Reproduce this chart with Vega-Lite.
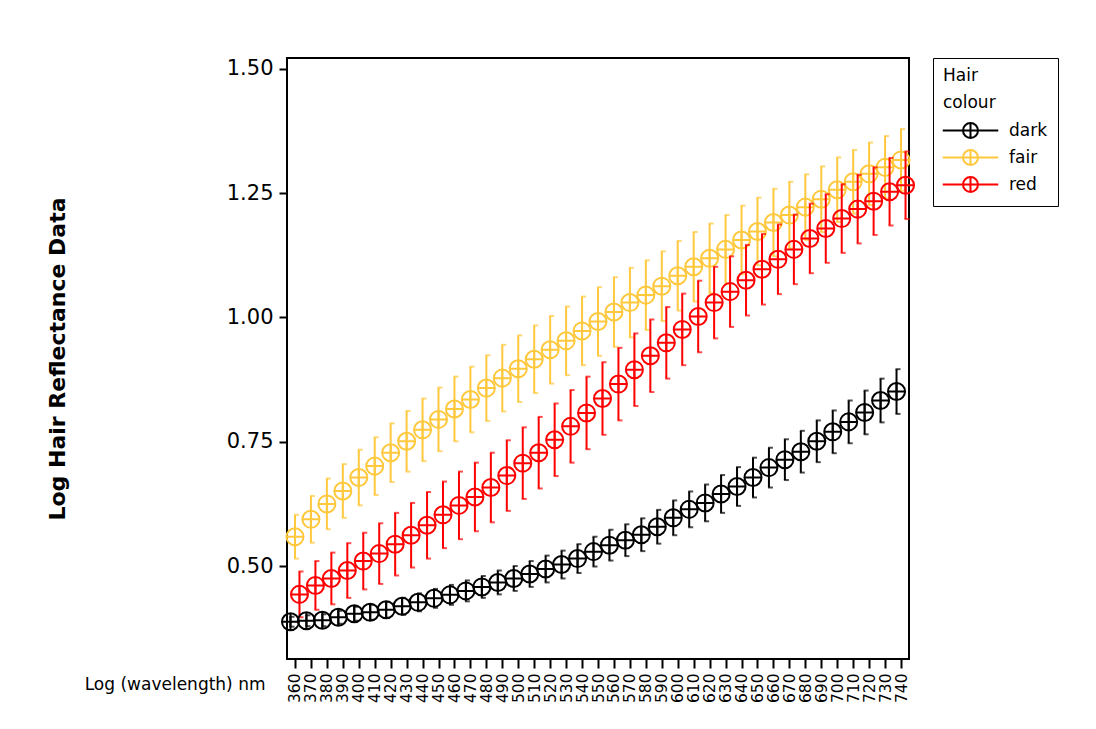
{
"$schema": "https://vega.github.io/schema/vega-lite/v6.json",
"width": 622, "height": 601,
"autosize": "none",
"padding": {"left": 287, "top": 58, "right": 187, "bottom": 70},
"background": "white",
"datasets": {
"d": [
{"wl":360,"c":"dark","m":0.388,"e":0.010},{"wl":370,"c":"dark","m":0.390,"e":0.011},{"wl":380,"c":"dark","m":0.391,"e":0.012},{"wl":390,"c":"dark","m":0.397,"e":0.013},{"wl":400,"c":"dark","m":0.404,"e":0.014},{"wl":410,"c":"dark","m":0.407,"e":0.015},{"wl":420,"c":"dark","m":0.412,"e":0.016},{"wl":430,"c":"dark","m":0.419,"e":0.017},{"wl":440,"c":"dark","m":0.427,"e":0.018},{"wl":450,"c":"dark","m":0.435,"e":0.019},{"wl":460,"c":"dark","m":0.442,"e":0.020},{"wl":470,"c":"dark","m":0.450,"e":0.021},{"wl":480,"c":"dark","m":0.458,"e":0.022},{"wl":490,"c":"dark","m":0.467,"e":0.024},{"wl":500,"c":"dark","m":0.475,"e":0.025},{"wl":510,"c":"dark","m":0.484,"e":0.026},{"wl":520,"c":"dark","m":0.494,"e":0.027},{"wl":530,"c":"dark","m":0.503,"e":0.028},{"wl":540,"c":"dark","m":0.515,"e":0.029},{"wl":550,"c":"dark","m":0.529,"e":0.030},{"wl":560,"c":"dark","m":0.542,"e":0.031},{"wl":570,"c":"dark","m":0.552,"e":0.032},{"wl":580,"c":"dark","m":0.563,"e":0.033},{"wl":590,"c":"dark","m":0.579,"e":0.034},{"wl":600,"c":"dark","m":0.597,"e":0.035},{"wl":610,"c":"dark","m":0.614,"e":0.036},{"wl":620,"c":"dark","m":0.627,"e":0.037},{"wl":630,"c":"dark","m":0.645,"e":0.038},{"wl":640,"c":"dark","m":0.660,"e":0.039},{"wl":650,"c":"dark","m":0.678,"e":0.040},{"wl":660,"c":"dark","m":0.698,"e":0.040},{"wl":670,"c":"dark","m":0.714,"e":0.041},{"wl":680,"c":"dark","m":0.730,"e":0.042},{"wl":690,"c":"dark","m":0.751,"e":0.042},{"wl":700,"c":"dark","m":0.770,"e":0.043},{"wl":710,"c":"dark","m":0.790,"e":0.043},{"wl":720,"c":"dark","m":0.809,"e":0.044},{"wl":730,"c":"dark","m":0.833,"e":0.044},{"wl":740,"c":"dark","m":0.851,"e":0.045},
{"wl":360,"c":"fair","m":0.559,"e":0.044},{"wl":370,"c":"fair","m":0.594,"e":0.047},{"wl":380,"c":"fair","m":0.625,"e":0.051},{"wl":390,"c":"fair","m":0.651,"e":0.054},{"wl":400,"c":"fair","m":0.678,"e":0.056},{"wl":410,"c":"fair","m":0.701,"e":0.058},{"wl":420,"c":"fair","m":0.728,"e":0.059},{"wl":430,"c":"fair","m":0.751,"e":0.061},{"wl":440,"c":"fair","m":0.774,"e":0.063},{"wl":450,"c":"fair","m":0.795,"e":0.064},{"wl":460,"c":"fair","m":0.816,"e":0.065},{"wl":470,"c":"fair","m":0.835,"e":0.066},{"wl":480,"c":"fair","m":0.858,"e":0.066},{"wl":490,"c":"fair","m":0.878,"e":0.067},{"wl":500,"c":"fair","m":0.897,"e":0.067},{"wl":510,"c":"fair","m":0.916,"e":0.068},{"wl":520,"c":"fair","m":0.935,"e":0.068},{"wl":530,"c":"fair","m":0.953,"e":0.069},{"wl":540,"c":"fair","m":0.973,"e":0.069},{"wl":550,"c":"fair","m":0.992,"e":0.069},{"wl":560,"c":"fair","m":1.011,"e":0.070},{"wl":570,"c":"fair","m":1.030,"e":0.070},{"wl":580,"c":"fair","m":1.045,"e":0.070},{"wl":590,"c":"fair","m":1.063,"e":0.070},{"wl":600,"c":"fair","m":1.084,"e":0.070},{"wl":610,"c":"fair","m":1.102,"e":0.070},{"wl":620,"c":"fair","m":1.119,"e":0.070},{"wl":630,"c":"fair","m":1.137,"e":0.069},{"wl":640,"c":"fair","m":1.156,"e":0.069},{"wl":650,"c":"fair","m":1.173,"e":0.068},{"wl":660,"c":"fair","m":1.191,"e":0.068},{"wl":670,"c":"fair","m":1.206,"e":0.067},{"wl":680,"c":"fair","m":1.222,"e":0.066},{"wl":690,"c":"fair","m":1.238,"e":0.066},{"wl":700,"c":"fair","m":1.257,"e":0.065},{"wl":710,"c":"fair","m":1.273,"e":0.064},{"wl":720,"c":"fair","m":1.289,"e":0.063},{"wl":730,"c":"fair","m":1.302,"e":0.063},{"wl":740,"c":"fair","m":1.317,"e":0.062},
{"wl":360,"c":"red","m":0.443,"e":0.046},{"wl":370,"c":"red","m":0.461,"e":0.049},{"wl":380,"c":"red","m":0.475,"e":0.052},{"wl":390,"c":"red","m":0.491,"e":0.055},{"wl":400,"c":"red","m":0.510,"e":0.057},{"wl":410,"c":"red","m":0.525,"e":0.061},{"wl":420,"c":"red","m":0.544,"e":0.063},{"wl":430,"c":"red","m":0.562,"e":0.065},{"wl":440,"c":"red","m":0.582,"e":0.067},{"wl":450,"c":"red","m":0.603,"e":0.067},{"wl":460,"c":"red","m":0.622,"e":0.068},{"wl":470,"c":"red","m":0.639,"e":0.069},{"wl":480,"c":"red","m":0.658,"e":0.070},{"wl":490,"c":"red","m":0.682,"e":0.071},{"wl":500,"c":"red","m":0.707,"e":0.072},{"wl":510,"c":"red","m":0.728,"e":0.072},{"wl":520,"c":"red","m":0.754,"e":0.073},{"wl":530,"c":"red","m":0.781,"e":0.073},{"wl":540,"c":"red","m":0.808,"e":0.073},{"wl":550,"c":"red","m":0.837,"e":0.073},{"wl":560,"c":"red","m":0.866,"e":0.073},{"wl":570,"c":"red","m":0.895,"e":0.073},{"wl":580,"c":"red","m":0.923,"e":0.073},{"wl":590,"c":"red","m":0.949,"e":0.072},{"wl":600,"c":"red","m":0.976,"e":0.072},{"wl":610,"c":"red","m":1.002,"e":0.072},{"wl":620,"c":"red","m":1.030,"e":0.072},{"wl":630,"c":"red","m":1.052,"e":0.071},{"wl":640,"c":"red","m":1.075,"e":0.071},{"wl":650,"c":"red","m":1.097,"e":0.071},{"wl":660,"c":"red","m":1.117,"e":0.070},{"wl":670,"c":"red","m":1.137,"e":0.070},{"wl":680,"c":"red","m":1.159,"e":0.070},{"wl":690,"c":"red","m":1.179,"e":0.069},{"wl":700,"c":"red","m":1.199,"e":0.069},{"wl":710,"c":"red","m":1.218,"e":0.069},{"wl":720,"c":"red","m":1.234,"e":0.068},{"wl":730,"c":"red","m":1.253,"e":0.068},{"wl":740,"c":"red","m":1.266,"e":0.068}
]},
"data": {"name": "d"},
"encoding": {
  "x": {"field": "wl", "type": "ordinal", "scale": {"type": "point", "padding": 0.5},
        "axis": {"title": "Log (wavelength) nm", "titleX": -22, "titleY": 25, "titleAlign": "right", "titleBaseline": "middle",
                 "titleFont": "DejaVu Sans", "titleFontSize": 17, "titleFontWeight": "normal", "titleColor": "black",
                 "labelAngle": 270, "labelFont": "DejaVu Sans", "labelFontSize": 15.5, "labelColor": "black", "labelPadding": 5,
                 "tickSize": 9, "tickWidth": 2, "tickColor": "black", "domain": false, "grid": false, "labelOverlap": false}},
  "y": {"field": "m", "type": "quantitative", "scale": {"domain": [0.313, 1.522], "nice": false, "zero": false},
        "axis": {"title": "Log Hair Reflectance Data", "titleX": -230, "titleBaseline": "middle",
                 "titleFont": "DejaVu Sans", "titleFontSize": 22, "titleFontWeight": "bold", "titleColor": "black",
                 "values": [0.5, 0.75, 1, 1.25, 1.5], "format": ".2f",
                 "labelFont": "DejaVu Sans", "labelFontSize": 21, "labelColor": "black", "labelPadding": 6,
                 "tickSize": 8, "tickWidth": 2, "tickColor": "black", "domain": false, "grid": false}},
  "color": {"field": "c", "type": "nominal",
            "scale": {"domain": ["dark", "fair", "red"], "range": ["#000000", "#FFC83D", "#FF0000"]},
            "legend": {"title": ["Hair", "colour"],
                       "orient": "right", "offset": 24, "padding": 10, "strokeColor": "black",
                       "symbolType": "M-3.7,0L3.7,0M-1,0A1,1 0 1,0 1,0A1,1 0 1,0 -1,0M0,-1L0,1",
                       "symbolSize": 225, "symbolStrokeWidth": 2, "symbolOffset": 19, "labelOffset": 30,
                       "symbolFillColor": "transparent", "symbolOpacity": 1,
                       "labelFont": "DejaVu Sans", "labelFontSize": 17, "labelColor": "black",
                       "titleFont": "DejaVu Sans", "titleFontSize": 17, "titleFontWeight": "normal", "titleColor": "black",
                       "titleLineHeight": 27, "titlePadding": 10, "rowPadding": 4,
                       "encode": {"symbols": {"update": {"fill": {"value": "transparent"}, "opacity": {"value": 1}, "strokeWidth": {"value": 2}}},
                                  "title": {"update": {"dx": {"value": 66}}}}}}
},
"layer": [
  {"transform": [{"filter": "datum.c === 'fair'"}],
   "mark": {"type": "errorbar", "rule": {"strokeWidth": 2}, "ticks": {"size": 5, "thickness": 2, "xOffset": 1.5}},
   "encoding": {"yError": {"field": "e"}, "color": {"value": "#FFC83D"}}},
  {"transform": [{"filter": "datum.c === 'fair'"}],
   "mark": {"type": "point", "shape": "M-1,0A1,1 0 1,0 1,0A1,1 0 1,0 -1,0ZM-1,0L1,0M0,-1L0,1", "size": 290, "strokeWidth": 2, "filled": false, "opacity": 1}},
  {"transform": [{"filter": "datum.c === 'red'"}],
   "mark": {"type": "errorbar", "rule": {"strokeWidth": 2, "xOffset": 4.5}, "ticks": {"size": 5, "thickness": 2, "xOffset": 6}},
   "encoding": {"yError": {"field": "e"}, "color": {"value": "#FF0000"}}},
  {"transform": [{"filter": "datum.c === 'red'"}],
   "mark": {"type": "point", "xOffset": 4.5, "shape": "M-1,0A1,1 0 1,0 1,0A1,1 0 1,0 -1,0ZM-1,0L1,0M0,-1L0,1", "size": 290, "strokeWidth": 2, "filled": false, "opacity": 1}},
  {"transform": [{"filter": "datum.c === 'dark'"}],
   "mark": {"type": "errorbar", "rule": {"strokeWidth": 2, "xOffset": -4.5}, "ticks": {"size": 5, "thickness": 2, "xOffset": -3}},
   "encoding": {"yError": {"field": "e"}, "color": {"value": "#000000"}}},
  {"transform": [{"filter": "datum.c === 'dark'"}],
   "mark": {"type": "point", "xOffset": -4.5, "shape": "M-1,0A1,1 0 1,0 1,0A1,1 0 1,0 -1,0ZM-1,0L1,0M0,-1L0,1", "size": 290, "strokeWidth": 2, "filled": false, "opacity": 1}}
],
"config": {"view": {"stroke": "black", "strokeWidth": 2}, "font": "DejaVu Sans"}
}
